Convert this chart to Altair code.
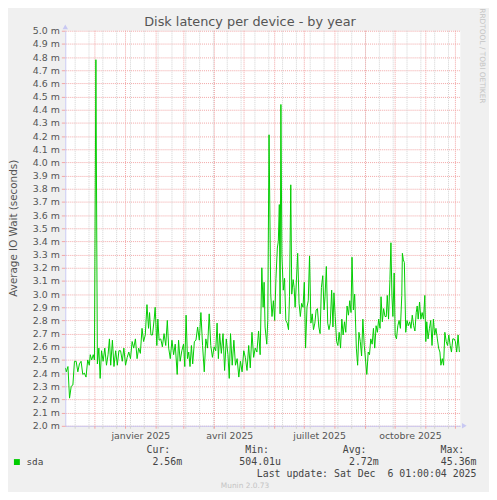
import altair as alt
import pandas as pd

# ---- data (days since 2024-11-01, IO wait in ms) ----
day_offset = [
    0, 1, 2.7, 4.3, 6, 7.7, 9.3, 11, 12.7, 14.3,
    16, 17.7, 19.3, 21, 22.7, 24.3, 25.3, 26.7, 28.3, 29.5,
    31, 32.5, 34, 35.3, 36.7, 38.3, 40, 41.7, 43.3, 44.7,
    46, 47.7, 49.3, 51, 52.7, 54.3, 56, 57.7, 59.3, 61,
    62.7, 64.3, 66, 67.7, 69.3, 71, 72.7, 74.3, 76, 77.7,
    79.3, 81, 82.7, 84.3, 85.3, 86.7, 88.3, 90, 91, 92.7,
    93.7, 95, 96.7, 98.3, 100, 101.7, 103.3, 104.7,
    106.3, 108, 109.7, 111.3, 113.3, 114.7, 116.3, 118, 119.7, 121,
    122.3, 123.7, 125, 126.3, 127.7, 129, 130.7, 132.3, 134, 135.7,
    137.3, 139, 140.7, 142.3, 144, 145.7, 147.3, 149, 150.7, 152.3,
    153.7, 155, 156.3, 158, 159.7, 161.3, 163, 164.7, 166, 167.3,
    169, 170.7, 172.3, 174, 175.7, 177.3, 179, 180.7, 182.3, 184,
    185.7, 187.3, 189, 190.7, 192.3, 194, 195.7, 197.3,
    199, 200.3, 201.3, 202.3, 204, 205, 206.3, 208, 209.3, 210.7,
    212, 213.3, 214.7, 215.7, 216.7, 217.5, 218.3, 219.3, 220.7, 222,
    223.3, 224.7, 226, 227, 228.3, 229.3, 230.7, 231.7, 232.7, 234,
    235.3, 236.7, 238, 239.3, 240.7, 242, 243.3, 244.7, 246, 247.3,
    248.7, 250, 251.3, 252.7, 254, 255.3, 256.7, 258, 259.3, 260.7,
    262, 263, 264.3, 265.7, 267, 268.3, 269.7, 271, 272, 273.3,
    274.7, 276, 277.3, 278.7, 280, 281.3, 282.7, 284, 285.3, 286.7,
    288, 289.3, 290.3, 291.7, 293, 294.7, 296, 297.3, 298.7, 300,
    301.3, 302.7, 304, 305.3,
    306.7, 308, 309.3, 310.7, 312, 313.3, 314.7, 316, 317.3, 318.7,
    319.7, 321, 322.3, 323.7, 325, 326, 327.3, 328.7, 329.7, 330.7,
    331.7, 333, 334, 335.3, 336.7, 338, 339.3, 340.7, 341.3, 342.3,
    343.3, 344.7, 346, 347.3, 348.7, 350, 351.3, 352.7, 354, 355.3,
    356.3, 357.3, 358.7, 360, 361.3, 362.7, 364, 365, 366, 367.3,
    368.7, 370, 371.3, 372.7, 374, 375.3, 376.7, 378, 379.3, 380.3,
    381.7, 383, 384.3, 385.7, 387, 388.3, 389.7, 391, 392.3, 393.7,
    395, 396.3, 397.7, 399,
]
io_wait_ms = [
    2.44, 2.41, 2.45, 2.21, 2.30, 2.31, 2.49, 2.49, 2.41, 2.47,
    2.49, 2.39, 2.40, 2.37, 2.50, 2.46, 2.54, 2.50, 2.54, 2.50,
    4.78, 2.47, 2.59, 2.36, 2.57, 2.49, 2.59, 2.46, 2.54, 2.66,
    2.46, 2.65, 2.45, 2.57, 2.46, 2.57, 2.57, 2.49, 2.59, 2.46,
    2.52, 2.56, 2.51, 2.64, 2.59, 2.66, 2.51, 2.59, 2.55, 2.74,
    2.64, 2.69, 2.92, 2.74, 2.86, 2.69, 2.69, 2.81, 2.90, 2.61,
    2.81, 2.65, 2.66, 2.60, 2.70, 2.61, 2.80, 2.59,
    2.51, 2.65, 2.54, 2.62, 2.39, 2.65, 2.49, 2.57, 2.62, 2.45,
    2.84, 2.51, 2.56, 2.45, 2.61, 2.47, 2.64, 2.65, 2.75, 2.65,
    2.86, 2.61, 2.41, 2.66, 2.59, 2.85, 2.61, 2.52, 2.60, 2.57,
    2.78, 2.51, 2.70, 2.55, 2.70, 2.42, 2.66, 2.54, 2.36, 2.70,
    2.46, 2.65, 2.46, 2.51, 2.37, 2.49, 2.41, 2.57, 2.52, 2.42,
    2.61, 2.44, 2.71, 2.52, 2.59, 2.56, 2.72, 2.54,
    3.20, 2.90, 3.09, 2.75, 2.62, 2.80, 4.21, 3.00, 2.83, 2.95,
    2.80, 3.12, 3.35, 3.40, 3.68, 2.85, 4.44, 3.30, 3.03, 3.12,
    2.80, 2.78, 2.73, 2.98, 3.83, 3.00, 3.11, 3.05, 2.90, 3.10,
    3.31, 2.93, 2.83, 2.93, 2.90, 3.09, 2.59, 2.90, 2.95, 3.29,
    2.78, 2.85, 2.73, 2.78, 2.88, 2.89, 2.75, 2.70, 3.05, 3.14,
    2.88, 2.98, 3.21, 2.78, 2.73, 2.78, 3.03, 2.75, 3.01, 2.83,
    2.64, 2.61, 2.71, 2.59, 2.81, 2.69, 2.79, 2.71, 2.91, 2.84,
    2.95, 2.86, 3.28, 2.88, 3.00, 2.59, 2.46, 2.71, 2.64, 2.53,
    2.81, 2.61, 2.50, 2.39,
    2.56, 2.54, 2.66, 2.62, 2.74, 2.59, 2.76, 2.71, 2.81, 2.74,
    2.98, 2.79, 2.89, 2.83, 2.83, 2.99, 2.81, 3.11, 3.39, 2.99,
    2.83, 3.16, 2.69, 2.66, 2.76, 2.80, 2.74, 2.99, 3.31, 3.26,
    3.24, 2.71, 2.80, 2.76, 2.79, 2.74, 2.84, 2.76, 2.72, 2.86,
    2.91, 2.81, 2.94, 2.81, 2.86, 2.81, 2.99, 2.64, 2.79, 2.66,
    2.74, 2.80, 2.61, 2.81, 2.69, 2.74, 2.66, 2.59, 2.56, 2.46,
    2.51, 2.46, 2.71, 2.64, 2.61, 2.69, 2.61, 2.56, 2.66, 2.66,
    2.64, 2.56, 2.69, 2.56,
]

month_starts = ["2024-12-01", "2025-01-01", "2025-02-01", "2025-03-01",
                "2025-04-01", "2025-05-01", "2025-06-01", "2025-07-01",
                "2025-08-01", "2025-09-01", "2025-10-01", "2025-11-01",
                "2025-12-01"]
label_dates = ["2025-01-16", "2025-04-16", "2025-07-16", "2025-10-16"]
label_names = ["janvier 2025", "avril 2025", "juillet 2025", "octobre 2025"]
y_ticks = [round(2.0 + 0.1 * i, 1) for i in range(31)]

legend_heads = ["Cur:", "Min:", "Avg:", "Max:"]
legend_vals = ["2.56m", "504.01u", "2.72m", "45.36m"]
series_name = "sda"
title_text = "Disk latency per device - by year"
y_title = "Average IO Wait (seconds)"
last_update = "Last update: Sat Dec\u00a0 6 01:00:04 2025"
footer = "Munin 2.0.73"
side_text = "RRDTOOL / TOBI OETIKER"

# ---- build tables ----
base = pd.Timestamp("2024-11-01", tz="UTC")
df = pd.DataFrame({
    "t": [(base + pd.Timedelta(days=d)).strftime("%Y-%m-%dT%H:%M:%SZ") for d in day_offset],
    "v": io_wait_ms,
})
minor_dates = pd.date_range("2024-11-11", "2025-12-05", freq="14D")
minor_df = pd.DataFrame({"t": [d.strftime("%Y-%m-%dT00:00:00Z") for d in minor_dates]})
major_df = pd.DataFrame({"t": [d + "T00:00:00Z" for d in month_starts]})

GREEN = "#00CC00"
MAJOR = "#F2A6A6"
MINOR = "#D2D2D2"
AXIS = "#C8C8F2"
TEXT = "#444444"

x_scale = alt.Scale(
    type="utc",
    domain=[alt.DateTime(year=2024, month=11, date=1, utc=True),
            alt.DateTime(year=2025, month=12, date=6, utc=True)],
)


def dt(s):
    y, m, d = (int(p) for p in s.split("-"))
    return alt.DateTime(year=y, month=m, date=d, utc=True)


label_expr = ""
for d, n in zip(label_dates, label_names):
    mo = int(d.split("-")[1]) - 1
    label_expr += f"utcmonth(datum.value) == {mo} ? '{n}' : "
label_expr += "''"

x_axis = alt.Axis(
    values=[dt(d) for d in label_dates], labelExpr=label_expr,
    grid=False, ticks=False, domainColor=AXIS, domainWidth=1,
    labelFont="DejaVu Sans", labelFontSize=9.5, labelColor="#555555",
    labelPadding=5, labelFlush=False, labelOverlap=False, title=None)

y_axis = alt.Axis(
    values=y_ticks, labelExpr="format(datum.value, '.1f') + ' m'",
    grid=True, gridColor=MAJOR, gridDash=[1, 1], gridOpacity=1,
    domainColor=AXIS, tickColor=MAJOR, tickSize=4,
    labelFont="DejaVu Sans", labelFontSize=9.5, labelColor="#555555",
    labelPadding=2, labelOverlap=False, title=None)

X = alt.X("t:T", scale=x_scale, axis=x_axis)

minor_rules = alt.Chart(minor_df).mark_rule(
    color=MINOR, strokeDash=[1, 1], strokeWidth=1).encode(x=X)
major_rules = alt.Chart(major_df).mark_rule(
    color=MAJOR, strokeDash=[1, 1], strokeWidth=1).encode(x=X)
minor_ticks = alt.Chart(minor_df).mark_rule(color=MINOR, strokeWidth=1).encode(
    x=X, y=alt.value(400), y2=alt.value(403))
major_ticks = alt.Chart(major_df).mark_rule(color=MAJOR, strokeWidth=1).encode(
    x=X, y=alt.value(400), y2=alt.value(403))

line = alt.Chart(df).mark_line(color=GREEN, strokeWidth=1, clip=True).encode(
    x=X,
    y=alt.Y("v:Q", scale=alt.Scale(domain=[2.0, 5.0], nice=False, zero=False),
            axis=y_axis),
)


def txt(s, x, y, **kw):
    return alt.Chart(pd.DataFrame({"s": [s]})).mark_text(**kw).encode(
        text="s:N", x=alt.value(x), y=alt.value(y))


layers = [minor_rules, major_rules, minor_ticks, major_ticks, line]

# axis arrows
layers.append(alt.Chart(pd.DataFrame({"a": [0]})).mark_point(
    shape="triangle-up", filled=True, color=AXIS, size=30, opacity=1).encode(
    x=alt.value(0), y=alt.value(-4)))
layers.append(alt.Chart(pd.DataFrame({"a": [0]})).mark_point(
    shape="triangle-right", filled=True, color=AXIS, size=30, opacity=1).encode(
    x=alt.value(404), y=alt.value(400)))

# title, axis title, side text
layers.append(txt(title_text, 187, -9, font="DejaVu Sans", fontSize=13,
                  color="#555555", align="center", baseline="middle"))
layers.append(txt(y_title, -52, 200, font="DejaVu Sans", fontSize=10.5,
                  color="#555555", align="center", baseline="middle", angle=270))
layers.append(txt(side_text, 421.7, 25.5, font="DejaVu Sans", fontSize=7.5,
                  color="#C4C4C4", align="center", baseline="middle", angle=90))

# legend
layers.append(alt.Chart(pd.DataFrame({"a": [0]})).mark_square(
    color=GREEN, size=36, opacity=1).encode(x=alt.value(-49), y=alt.value(436.7)))
layers.append(txt(series_name, -39.3, 437, font="DejaVu Sans Mono", fontSize=9.5,
                  color=TEXT, align="left", baseline="middle"))
head_right = [106.3, 206.3, 305, 404]
val_right = [118.3, 218.3, 317.3, 416.3]
for h, v, hx, vx in zip(legend_heads, legend_vals, head_right, val_right):
    layers.append(txt(h, hx, 424.7, font="DejaVu Sans Mono", fontSize=10,
                      color=TEXT, align="right", baseline="middle"))
    layers.append(txt(v, vx, 437, font="DejaVu Sans Mono", fontSize=10,
                      color=TEXT, align="right", baseline="middle"))
layers.append(txt(last_update, 416.3, 448.7, font="DejaVu Sans Mono", fontSize=10,
                  color=TEXT, align="right", baseline="middle"))
layers.append(txt(footer, 182, 461, font="DejaVu Sans", fontSize=7.5,
                  color="#C4C4C4", align="center", baseline="middle"))

chart = alt.layer(*layers).properties(
    width=400, height=400,
    autosize=alt.AutoSizeParams(type="none"),
    padding={"left": 58, "top": 20, "right": 29, "bottom": 64},
    background="#F0F0F0",
).configure_view(fill="white", stroke=None)

chart.save("out.html", embed_options={"renderer": "svg", "actions": False})
